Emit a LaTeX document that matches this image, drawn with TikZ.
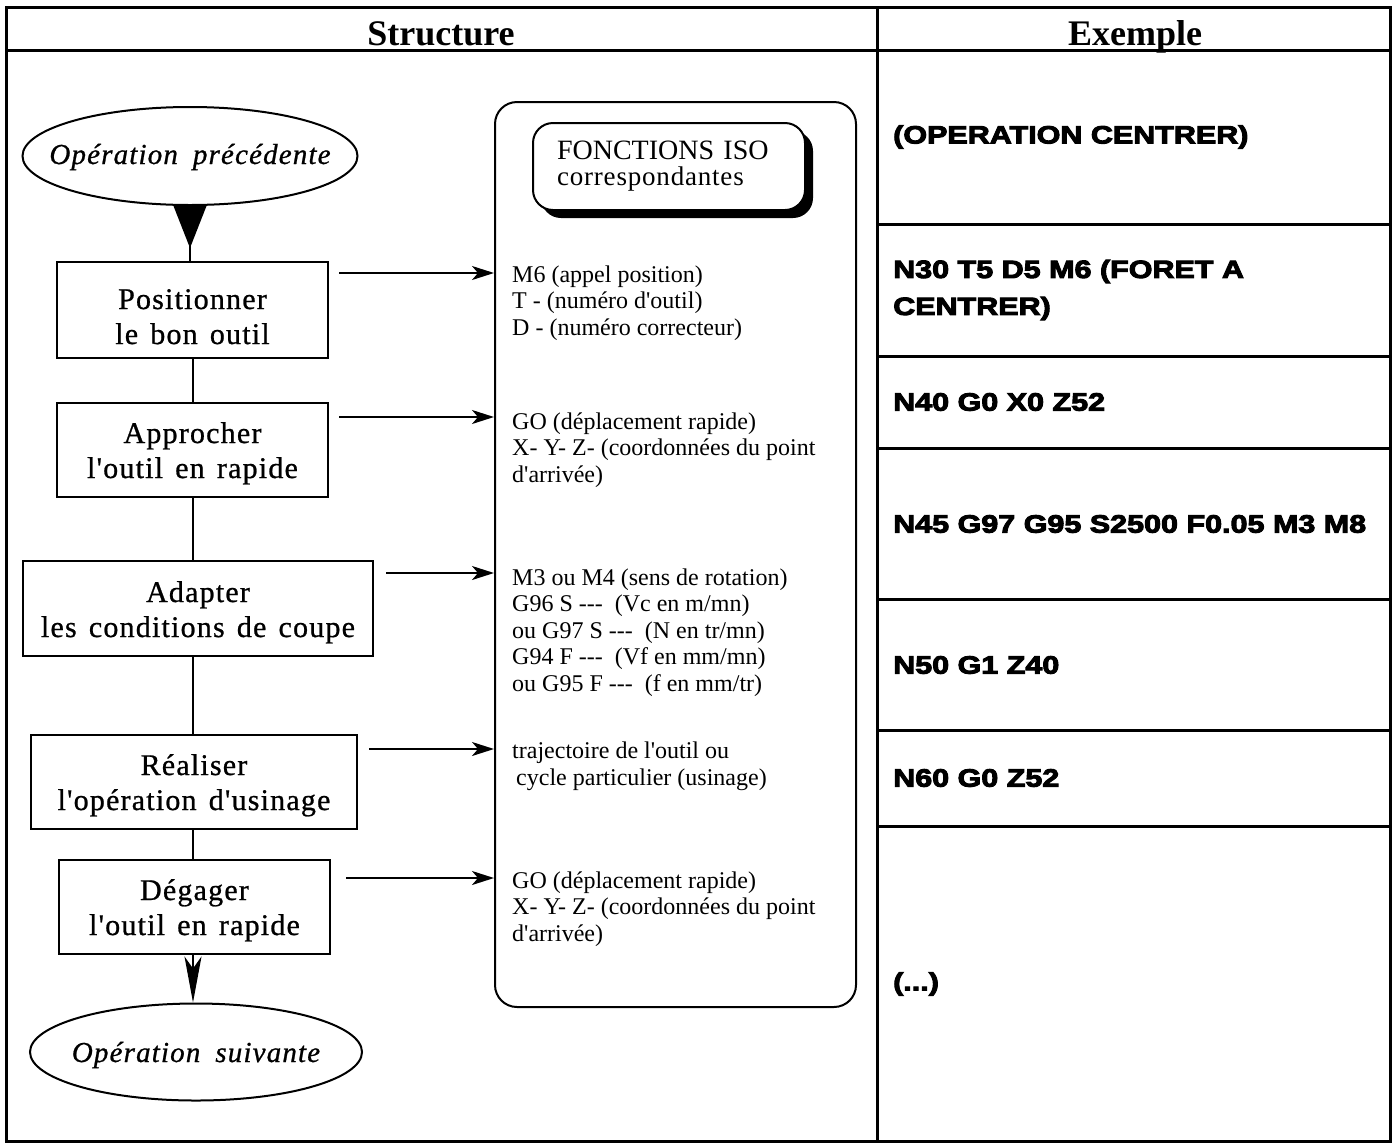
\documentclass[tikz,border=0pt]{standalone}
\usepackage{fontspec}
\usetikzlibrary{arrows.meta,shapes.geometric,calc,shadows}
\setmainfont{Liberation Serif}
\newfontfamily\isofont{Liberation Serif}
\newfontfamily\flowfont[LetterSpace=4,WordSpace=1.4,FakeBold=0.8]{Liberation Serif}
\newfontfamily\codefont[FakeStretch=1.22,FakeBold=4]{Liberation Sans}
\newcommand\gap{\hspace{15pt}}
\begin{document}
\begin{tikzpicture}[x=1pt,y=-1pt,
  grid/.style={line width=3pt},
  stepbox/.style={draw,line width=2pt,inner sep=0pt},
  steptext/.style={anchor=base,inner sep=0pt,align=center,
    font=\flowfont\fontsize{30}{35}\selectfont},
  term/.style={draw,ellipse,line width=2pt,inner sep=0pt},
  termtext/.style={anchor=base,inner sep=0pt,
    font=\flowfont\itshape\fontsize{29}{34}\selectfont},
  link/.style={line width=2.5pt},
  feed/.style={line width=2pt,-{Stealth[length=22pt,width=14pt,inset=6pt]}},
  iso/.style={anchor=base west,align=left,inner sep=0pt,
    font=\isofont\fontsize{24}{26.5}\selectfont},
  code/.style={anchor=west,inner sep=0pt,align=left,
    font=\codefont\bfseries\fontsize{25}{37}\selectfont},
  head/.style={anchor=base,inner sep=0pt,font=\bfseries\fontsize{36}{40}\selectfont}]

\useasboundingbox (0,0) rectangle (1394,1144);
\fill[white] (0,0) rectangle (1394,1144);

% table frame
\draw[grid] (6,7) rectangle (1390,1141);
\draw[grid] (6,50) -- (1390,50);
\draw[grid] (877,7) -- (877,1141);
\foreach \y in {224,356,448,599,730,826} \draw[grid] (877,\y) -- (1390,\y);

% headings
\node[head] (hs) at (441,45) {Structure};
\node[head] (he) at (1135,45) {Exemple};

% flowchart of the machining sequence
\coordinate (spine) at (193,0);
\node[term,minimum width=335pt,minimum height=98pt] (e1) at (190,156) {};
\node[termtext] (e1t) at ($(e1)+(0,8)$) {Opération\gap précédente};
\node[stepbox,minimum width=271pt,minimum height=96pt] (b1) at (192.5,310) {};
\node[steptext] (b1t) at ($(b1)+(0,34)$) {Positionner\\le bon outil};
\node[stepbox,minimum width=271pt,minimum height=94pt] (b2) at (192.5,450) {};
\node[steptext] (b2t) at ($(b2)+(0,28)$) {Approcher\\l'outil en rapide};
\node[stepbox,minimum width=350pt,minimum height=95pt] (b3) at (198,608.5) {};
\node[steptext] (b3t) at ($(b3)+(0,28.5)$) {Adapter\\les conditions de coupe};
\node[stepbox,minimum width=326pt,minimum height=94pt] (b4) at (194,782) {};
\node[steptext] (b4t) at ($(b4)+(0,28)$) {Réaliser\\l'opération d'usinage};
\node[stepbox,minimum width=271pt,minimum height=94pt] (b5) at (194.5,907) {};
\node[steptext] (b5t) at ($(b5)+(0,28)$) {Dégager\\l'outil en rapide};
\node[term,minimum width=332pt,minimum height=97pt] (e2) at (196,1052) {};
\node[termtext] (e2t) at ($(e2)+(0,10)$) {Opération\gap suivante};

\draw[link] (e1.south) -- (e1.south |- b1.north);
\fill ($(e1.south)+(-16.5,0)$) -- ($(e1.south)+(16.5,0)$) -- ($(e1.south)+(0,42)$) -- cycle;
\draw[link] (b1.south -| spine) -- (b2.north -| spine);
\draw[link] (b2.south -| spine) -- (b3.north -| spine);
\draw[link] (b3.south -| spine) -- (b4.north -| spine);
\draw[link] (b4.south -| spine) -- (b5.north -| spine);
\draw[link,-{Stealth[length=46pt,width=17pt,inset=12pt]}] (b5.south -| spine) -- (e2.north -| spine);

% ISO functions panel
\node[draw,rounded corners=22pt,line width=2pt,minimum width=361pt,minimum height=905pt] (big) at (675.5,554.5) {};
\node[draw,fill=white,rounded corners=20pt,line width=2pt,
  minimum height=87pt,text width=224pt,inner xsep=24pt,inner ysep=0pt,align=left,
  font=\isofont\fontsize{28}{26}\selectfont,
  drop shadow={shadow xshift=8pt,shadow yshift=-8pt,fill=black,opacity=1}]
  (isohd) at (669,166.5) {FONCTIONS ISO\\{\fontsize{27}{26}\selectfont\addfontfeature{LetterSpace=3}correspondantes}};

\coordinate (a1) at (big.west |- 0,273);
\coordinate (a2) at (big.west |- 0,417);
\coordinate (a3) at (big.west |- 0,573);
\coordinate (a4) at (big.west |- 0,749);
\coordinate (a5) at (big.west |- 0,878);

\draw[feed] ($(b1.east |- a1)+(10,0)$) -- (a1);
\draw[feed] ($(b2.east |- a2)+(10,0)$) -- (a2);
\draw[feed] ($(b3.east |- a3)+(12,0)$) -- (a3);
\draw[feed] ($(b4.east |- a4)+(11,0)$) -- (a4);
\draw[feed] ($(b5.east |- a5)+(15,0)$) -- (a5);

% the base anchor of each list sits on its last line
\node[iso] (t1) at ($(a1)+(18,62)$) {M6 (appel position)\\T - (numéro d'outil)\\D - (numéro correcteur)};
\node[iso] (t2) at ($(a2)+(18,65)$) {GO (déplacement rapide)\\X- Y- Z- (coordonnées du point\\d'arrivée)};
\node[iso] (t3) at ($(a3)+(18,118)$) {M3 ou M4 (sens de rotation)\\G96 S ---\ \ (Vc en m/mn)\\ou G97 S ---\ \ (N en tr/mn)\\G94 F ---\ \ (Vf en mm/mn)\\ou G95 F ---\ \ (f en mm/tr)};
\node[iso] (t4) at ($(a4)+(18,36)$) {trajectoire de l'outil ou\\\hspace{4pt}cycle particulier (usinage)};
\node[iso] (t5) at ($(a5)+(18,63)$) {GO (déplacement rapide)\\X- Y- Z- (coordonnées du point\\d'arrivée)};

% example program
\node[code] (c1) at (893,137) {(OPERATION CENTRER)};
\node[code] (c2) at (893,290) {N30 T5 D5 M6 (FORET A\\CENTRER)};
\node[code] (c3) at (893,402) {N40 G0 X0 Z52};
\node[code] (c4) at (893,524) {N45 G97 G95 S2500 F0.05 M3 M8};
\node[code] (c5) at (893,665) {N50 G1 Z40};
\node[code] (c6) at (893,778) {N60 G0 Z52};
\node[code] (c7) at (893,984) {(...)};
\end{tikzpicture}
\end{document}
